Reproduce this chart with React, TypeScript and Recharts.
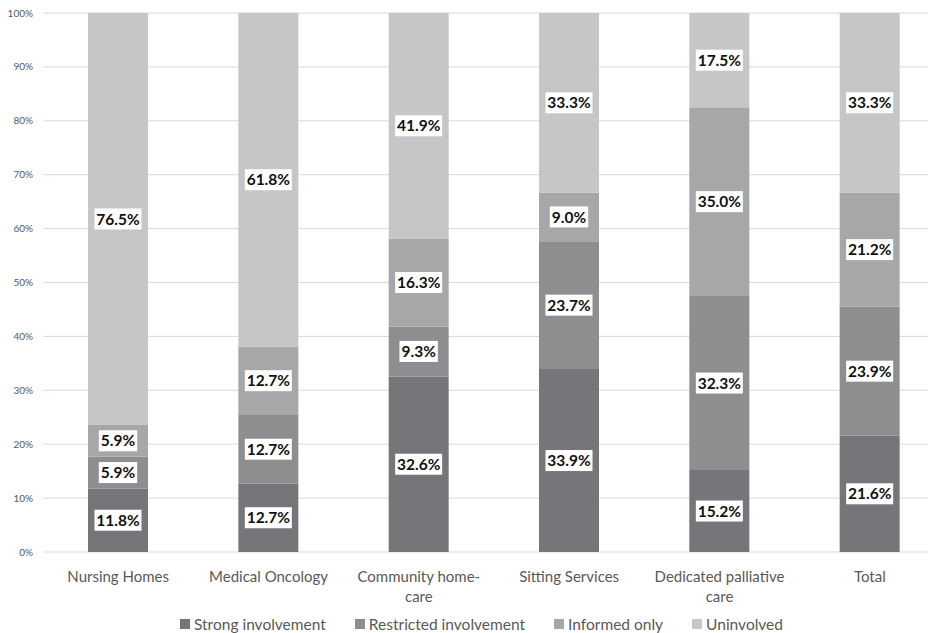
import React from "react";
import { BarChart, Bar, XAxis, YAxis, CartesianGrid, Legend, LabelList } from "recharts";

const categories = ["Nursing Homes", "Medical Oncology", "Community home-care", "Sitting Services", "Dedicated palliative care", "Total"];
const tickLines: string[][] = [["Nursing Homes"], ["Medical Oncology"], ["Community home-", "care"], ["Sitting Services"], ["Dedicated palliative", "care"], ["Total"]];
const strong = [11.8, 12.7, 32.6, 33.9, 15.2, 21.6];
const restricted = [5.9, 12.7, 9.3, 23.7, 32.3, 23.9];
const informed = [5.9, 12.7, 16.3, 9.0, 35.0, 21.2];
const uninvolved = [76.5, 61.8, 41.9, 33.3, 17.5, 33.3];
const yTicks = [0, 0.1, 0.2, 0.3, 0.4, 0.5, 0.6, 0.7, 0.8, 0.9, 1];

const series = [
  { key: "strong", name: "Strong involvement", color: "#76767a" },
  { key: "restricted", name: "Restricted involvement", color: "#8e8e91" },
  { key: "informed", name: "Informed only", color: "#a7a7aa" },
  { key: "uninvolved", name: "Uninvolved", color: "#c6c6c8" },
];

const data = categories.map((c, i) => ({
  category: c,
  strong: strong[i],
  restricted: restricted[i],
  informed: informed[i],
  uninvolved: uninvolved[i],
}));

const FONT = "Lato, 'Open Sans', sans-serif";

const BoxLabel = (props: any) => {
  const { x, y, width, height, value } = props;
  if (value == null) return null;
  const text = `${Number(value).toFixed(1)}%`;
  const w = text.length * 8.6 + 4;
  const h = 21;
  const cx = x + width / 2;
  const cy = y + height / 2;
  return (
    <g>
      <rect x={cx - w / 2} y={cy - h / 2} width={w} height={h} fill="#ffffff" />
      <text x={cx} y={cy} dy="0.36em" textAnchor="middle" fontFamily={FONT} fontWeight={700} fontSize={15.5} fill="#111111">
        {text}
      </text>
    </g>
  );
};

const XTick = (props: any) => {
  const { x, y, index } = props;
  const lines = tickLines[index] || [];
  return (
    <g>
      {lines.map((l, i) => (
        <text key={i} x={x} y={y + 22 + i * 20} textAnchor="middle" fontFamily={FONT} fontSize={15} fill="#595959">
          {l}
        </text>
      ))}
    </g>
  );
};

const LegendContent = () => (
  <div style={{ height: 31, paddingLeft: 27, boxSizing: "border-box", display: "flex", justifyContent: "center", alignItems: "flex-end", fontFamily: FONT, fontSize: 15.5, color: "#595959" }}>
    {series.map((s) => (
      <div key={s.key} style={{ display: "flex", alignItems: "center", margin: "0 14.5px", lineHeight: "18px" }}>
        <span style={{ display: "inline-block", width: 10, height: 10, background: s.color, marginRight: 4 }} />
        <span>{s.name}</span>
      </div>
    ))}
  </div>
);

export default function App() {
  return (
    <div style={{ margin: "-8px 0 0 -8px", width: 936, height: 633, background: "#fff" }}>
      <BarChart width={936} height={633} data={data} stackOffset="expand" margin={{ top: 13, right: 0, left: 0, bottom: 0 }} barSize={60}>
        <CartesianGrid vertical={false} stroke="#d9d9d9" />
        <XAxis dataKey="category" tick={<XTick />} tickLine={false} axisLine={false} height={50} interval={0} padding={{ left: 0, right: -9 }} />
        <YAxis
          ticks={yTicks}
          domain={[0, 1]}
          tickFormatter={(v: number) => `${Math.round(v * 100)}%`}
          tick={{ fontFamily: FONT, fontSize: 10, fill: "#595959" }}
          tickLine={false}
          axisLine={false}
          tickSize={0}
          tickMargin={10}
          width={43}
          interval={0}
        />
        <Legend verticalAlign="bottom" content={<LegendContent />} />
        {series.map((s) => (
          <Bar key={s.key} dataKey={s.key} name={s.name} stackId="a" fill={s.color} isAnimationActive={false}>
            <LabelList dataKey={s.key} content={<BoxLabel />} />
          </Bar>
        ))}
      </BarChart>
    </div>
  );
}
